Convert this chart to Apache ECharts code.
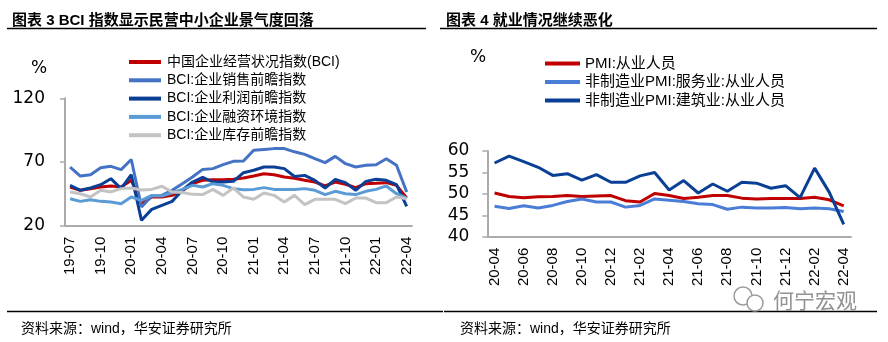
<!DOCTYPE html>
<html><head><meta charset="utf-8">
<script src="https://cdn.jsdelivr.net/npm/echarts@6/dist/echarts.min.js"></script>
<style>html,body{margin:0;padding:0;background:#fff}#c{width:888px;height:342px}</style>
</head><body><div id="c"></div>
<script>
// ---- Left chart (图表3) data ----
const bciMonths = ['19-07','19-08','19-09','19-10','19-11','19-12','20-01','20-02','20-03','20-04','20-05','20-06',
  '20-07','20-08','20-09','20-10','20-11','20-12','21-01','21-02','21-03','21-04','21-05','21-06',
  '21-07','21-08','21-09','21-10','21-11','21-12','22-01','22-02','22-03','22-04'];
const bciIndex = [50.4,47.8,49.0,50.4,51.2,50.4,55.6,37.3,42.5,42.5,43.8,47.5,53.0,55.6,56.1,56.1,56.4,57.4,59.0,60.8,60.0,58.2,57.2,55.6,54.3,51.2,54.3,52.5,49.9,53.0,53.3,53.8,51.7,41.7];
const bciSales = [66.0,59.0,60.0,65.5,66.6,64.0,72.0,34.7,43.3,43.8,47.8,53.0,58.2,64.2,64.8,67.9,70.5,70.8,79.2,79.9,80.5,80.5,78.0,76.0,72.6,69.5,74.4,68.7,66.1,67.4,67.9,72.6,67.4,46.5];
const bciProfit = [51.7,47.8,49.6,52.2,56.9,49.1,60.0,24.2,32.8,36.0,39.1,47.8,54.3,58.0,54.3,54.3,54.8,61.6,63.5,66.1,66.1,64.8,58.6,59.5,55.6,49.6,56.4,53.8,47.8,54.8,56.4,55.6,52.2,35.2];
const bciFinance = [41.2,39.1,40.4,39.1,38.6,37.3,42.5,39.9,43.8,43.3,45.9,48.5,51.7,50.4,53.0,51.7,49.1,48.3,48.5,49.9,48.5,48.5,48.5,49.1,47.8,44.4,47.0,45.1,44.4,47.0,48.5,51.2,45.1,41.7];
const bciInventory = [46.5,45.1,42.5,47.8,46.5,49.1,49.6,48.0,48.5,51.0,46.5,46.0,44.6,44.4,48.5,43.8,49.6,42.5,40.7,45.7,43.8,38.6,43.8,36.5,40.7,40.7,40.7,37.3,41.7,41.7,38.1,38.1,42.5,41.2];
const leftNames = ['中国企业经营状况指数(BCI)','BCI:企业销售前瞻指数','BCI:企业利润前瞻指数','BCI:企业融资环境指数','BCI:企业库存前瞻指数'];
const leftTicks = [20,70,120];

// ---- Right chart (图表4) data ----
const pmiMonths = ['20-04','20-05','20-06','20-07','20-08','20-09','20-10','20-11','20-12','21-01','21-02','21-03',
  '21-04','21-05','21-06','21-07','21-08','21-09','21-10','21-11','21-12','22-01','22-02','22-03','22-04'];
const pmiEmploy = [50.2,49.4,49.1,49.3,49.4,49.6,49.4,49.5,49.6,48.4,48.1,50.1,49.6,48.9,49.2,49.6,49.6,49.0,48.8,48.9,48.9,48.9,49.2,48.6,47.2];
const svcEmploy = [47.1,46.6,47.2,46.7,47.3,48.2,48.8,48.1,48.1,46.9,47.3,48.8,48.5,48.2,47.7,47.5,46.4,46.9,46.7,46.7,46.8,46.5,46.7,46.5,45.9];
const conEmploy = [57.2,58.8,57.5,56.2,54.3,54.7,53.2,54.5,52.7,52.7,54.2,55.0,50.9,53.1,50.2,52.3,50.6,52.7,52.5,51.3,51.9,49.1,56.0,50.4,42.9];
const rightNames = ['PMI:从业人员','非制造业PMI:服务业:从业人员','非制造业PMI:建筑业:从业人员'];
const rightTicks = [40,45,50,55,60];

const chart = echarts.init(document.getElementById('c'), null, {renderer:'canvas'});
const CJK = "'Liberation Sans','Noto Sans CJK SC',sans-serif";
const NUM = "'DejaVu Sans','Liberation Sans',sans-serif";
const axisGray = '#ABABAB';
const C = {red:'#C00000', mid:'#4472C4', dark:'#0A3F96', light:'#5B9BD5', gray:'#C3C3C3'};

function mkLine(name, data, color, xi, yi){
  return {name, type:'line', data, xAxisIndex:xi, yAxisIndex:yi, symbol:'none', smooth:false,
    lineStyle:{width:3, color}, itemStyle:{color}, emphasis:{disabled:true}, animation:false};
}
const xAxisCommon = (data, idx, grid) => ({
  type:'category', data, gridIndex:grid, boundaryGap:true,
  axisLine:{lineStyle:{color:axisGray, width:2}},
  axisTick:{interval:idx, length:5, lineStyle:{color:axisGray, width:1.5}},
  axisLabel:{interval:idx, rotate:90, margin:11, fontSize:15, color:'#000', fontFamily:"'Liberation Sans',sans-serif"},
  splitLine:{show:false}
});
const yAxisCommon = (grid, min, max, interval, margin, fs) => ({
  type:'value', gridIndex:grid, min, max, interval,
  axisLine:{show:true, lineStyle:{color:axisGray, width:2}},
  axisTick:{show:true, length:5, lineStyle:{color:axisGray, width:1.5}},
  axisLabel:{margin, fontSize:fs, color:'#000', fontFamily:NUM},
  splitLine:{show:false}
});

chart.setOption({
  animation:false,
  backgroundColor:'#fff',
  title:[
    {text:'图表 3 BCI 指数显示民营中小企业景气度回落', left:7, top:8,
     textStyle:{fontSize:15, fontWeight:'bold', color:'#000', fontFamily:CJK}},
    {text:'图表 4 就业情况继续恶化', left:441, top:8,
     textStyle:{fontSize:15, fontWeight:'bold', color:'#000', fontFamily:CJK}},
    {text:'资料来源：wind，华安证券研究所', left:16, top:317,
     textStyle:{fontSize:14, fontWeight:'normal', color:'#000', fontFamily:CJK}},
    {text:'资料来源：wind，华安证券研究所', left:455, top:317,
     textStyle:{fontSize:14, fontWeight:'normal', color:'#000', fontFamily:CJK}}
  ],
  legend:[
    {orient:'vertical', left:124, top:50, itemWidth:32, itemHeight:4, itemGap:4.3, icon:'rect',
     data:leftNames, selectedMode:false,
     textStyle:{fontSize:14, color:'#000', fontFamily:CJK, padding:[0,0,0,1]}},
    {orient:'vertical', left:540, top:51, itemWidth:35, itemHeight:4, itemGap:3.5, icon:'rect',
     data:rightNames, selectedMode:false,
     textStyle:{fontSize:15, color:'#000', fontFamily:CJK}}
  ],
  grid:[
    {left:65, top:98.3, width:346.8, height:127.4, containLabel:false},
    {left:487.3, top:151, width:363.7, height:85.7, containLabel:false}
  ],
  xAxis:[ xAxisCommon(bciMonths, 2, 0), xAxisCommon(pmiMonths, 1, 1) ],
  yAxis:[ yAxisCommon(0, leftTicks[0], leftTicks[2], 50, 20, 17),
          yAxisCommon(1, rightTicks[0], rightTicks[4], 5, 18, 17) ],
  series:[
    mkLine(leftNames[0], bciIndex, C.red, 0, 0),
    mkLine(leftNames[1], bciSales, C.mid, 0, 0),
    mkLine(leftNames[2], bciProfit, C.dark, 0, 0),
    mkLine(leftNames[3], bciFinance, C.light, 0, 0),
    mkLine(leftNames[4], bciInventory, C.gray, 0, 0),
    mkLine(rightNames[0], pmiEmploy, C.red, 1, 1),
    mkLine(rightNames[1], svcEmploy, '#4A7DD6', 1, 1),
    mkLine(rightNames[2], conEmploy, '#0A3F96', 1, 1)
  ],
  graphic:[
    {type:'line', shape:{x1:7, y1:28.5, x2:426, y2:28.5}, style:{stroke:'#000', lineWidth:1.3}},
    {type:'line', shape:{x1:440, y1:28.5, x2:877, y2:28.5}, style:{stroke:'#000', lineWidth:1.3}},
    {type:'line', shape:{x1:7, y1:311.5, x2:443, y2:311.5}, style:{stroke:'#000', lineWidth:1.3}},
    {type:'line', shape:{x1:444, y1:311.5, x2:877, y2:311.5}, style:{stroke:'#000', lineWidth:1.3}},
    {type:'text', left:31, top:60, style:{text:'%', fontSize:17, fill:'#000', fontFamily:NUM}},
    {type:'text', left:470, top:49, style:{text:'%', fontSize:17, fill:'#000', fontFamily:NUM}},
    {type:'circle', shape:{cx:743, cy:296, r:9}, style:{fill:'#fff', stroke:'#9a9a9a', lineWidth:1.5}},
    {type:'circle', shape:{cx:755, cy:303, r:8}, style:{fill:'#fff', stroke:'#9a9a9a', lineWidth:1.5}},
    {type:'text', left:773, top:290, style:{text:'何宁宏观', fontSize:21, fill:'rgba(110,110,110,0.75)', fontFamily:"'Noto Sans CJK SC',sans-serif"}}
  ]
});
</script>
</body></html>
